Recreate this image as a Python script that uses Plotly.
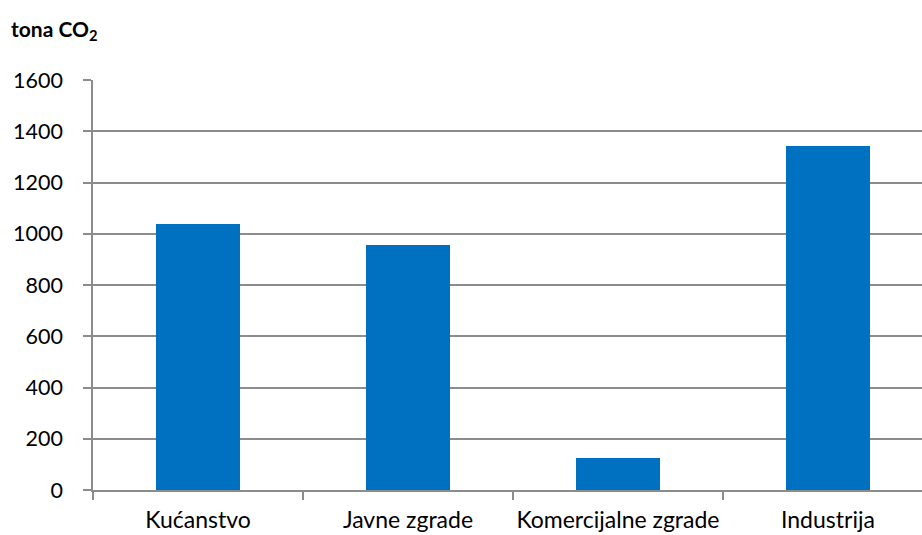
import plotly.graph_objects as go

# Emissions by sector (tonnes CO2)
categories = ["Kućanstvo", "Javne zgrade", "Komercijalne zgrade", "Industrija"]
emissions = [1037, 957, 123, 1342]
y_ticks = [0, 200, 400, 600, 800, 1000, 1200, 1400, 1600]

FONT = "Lato"
GRID = "#8c8c8c"

fig = go.Figure(
    go.Bar(
        x=categories,
        y=emissions,
        width=0.4,
        marker=dict(color="#0070C0", line=dict(width=0)),
        hoverinfo="x+y",
    )
)

fig.update_layout(
    width=922,
    height=535,
    margin=dict(l=93, r=0, t=80, b=45),
    paper_bgcolor="white",
    plot_bgcolor="white",
    showlegend=False,
    font=dict(family=FONT, size=21, color="#000000"),
    bargap=0,
)

fig.update_xaxes(
    type="category",
    range=[-0.5, 3.448],
    automargin=False,
    showline=True,
    linecolor=GRID,
    linewidth=1.5,
    ticks="outside",
    tickson="boundaries",
    ticklen=8,
    tickcolor=GRID,
    tickwidth=1.5,
    tickangle=0,
    ticklabelstandoff=9,
    tickfont=dict(family=FONT, size=23, color="#000000"),
    showgrid=False,
)

fig.update_yaxes(
    range=[0, 1600],
    tickvals=y_ticks,
    automargin=False,
    showline=True,
    linecolor=GRID,
    linewidth=1.5,
    ticks="outside",
    ticklen=8,
    tickcolor=GRID,
    tickwidth=1.5,
    ticklabelstandoff=16,
    showgrid=True,
    gridcolor=GRID,
    gridwidth=1.5,
    zeroline=False,
    tickfont=dict(family=FONT, size=21.5, color="#000000"),
)

fig.add_annotation(
    text="<b>tona CO<sub>2</sub></b>",
    xref="paper", yref="paper",
    x=-84 / 829, y=1 + 50 / 410,
    xanchor="left", yanchor="middle",
    showarrow=False,
    font=dict(family=FONT, size=21, color="#000000"),
)

fig.write_html("out.html")
